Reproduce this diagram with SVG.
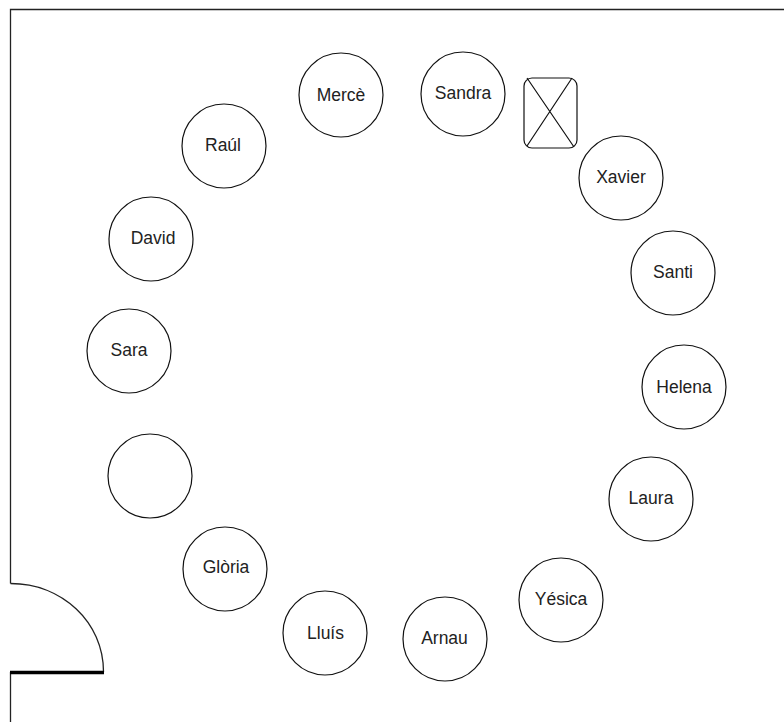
<svg xmlns="http://www.w3.org/2000/svg" width="784" height="722" viewBox="0 0 784 722">
<style>
.n{fill:#fff;stroke:#111;stroke-width:1.2}
.t{font-family:"Liberation Sans",Arial,sans-serif;font-size:17.500px;fill:#222;text-anchor:middle}
.w{fill:none;stroke:#222;stroke-width:1.3}
</style>
<rect width="784" height="722" fill="#fff"/>
<g id="walls">
<path class="w" d="M784 9.500H10.500V583.500M10.500 672V722"/>
<path class="w" d="M10.500 583.500C62 583.500 103.500 622 103.500 672"/>
<path d="M10 672.500H104" fill="none" stroke="#000" stroke-width="3.500"/>
</g>
<g id="connectors"></g>
<g id="table"><rect class="n" x="524" y="78" width="53" height="70" rx="8"/><path class="n" d="M527 78L574 147M572 78L527 146" fill="none"/></g>
<g id="sandra"><circle class="n" cx="463" cy="94" r="42"/><text class="t" x="463" y="98.500">Sandra</text></g>
<g id="merce"><circle class="n" cx="341" cy="95" r="42"/><text class="t" x="341" y="101">Mercè</text></g>
<g id="raul"><circle class="n" cx="224" cy="146" r="42"/><text class="t" x="223" y="151">Raúl</text></g>
<g id="david"><circle class="n" cx="151" cy="239" r="42"/><text class="t" x="153" y="244">David</text></g>
<g id="sara"><circle class="n" cx="129" cy="351" r="42"/><text class="t" x="129" y="356">Sara</text></g>
<g id="empty"><circle class="n" cx="150" cy="476" r="42"/></g>
<g id="gloria"><circle class="n" cx="225" cy="569" r="42"/><text class="t" x="226" y="573">Glòria</text></g>
<g id="lluis"><circle class="n" cx="325" cy="633" r="42"/><text class="t" x="325.500" y="639">Lluís</text></g>
<g id="arnau"><circle class="n" cx="445" cy="639" r="42"/><text class="t" x="444.500" y="644">Arnau</text></g>
<g id="yesica"><circle class="n" cx="561" cy="600" r="42"/><text class="t" x="561" y="605">Yésica</text></g>
<g id="laura"><circle class="n" cx="651" cy="499" r="42"/><text class="t" x="651" y="504">Laura</text></g>
<g id="helena"><circle class="n" cx="684" cy="387" r="42"/><text class="t" x="684" y="393">Helena</text></g>
<g id="santi"><circle class="n" cx="673" cy="273" r="42"/><text class="t" x="673" y="278">Santi</text></g>
<g id="xavier"><circle class="n" cx="621" cy="178" r="42"/><text class="t" x="621" y="183">Xavier</text></g>
</svg>
